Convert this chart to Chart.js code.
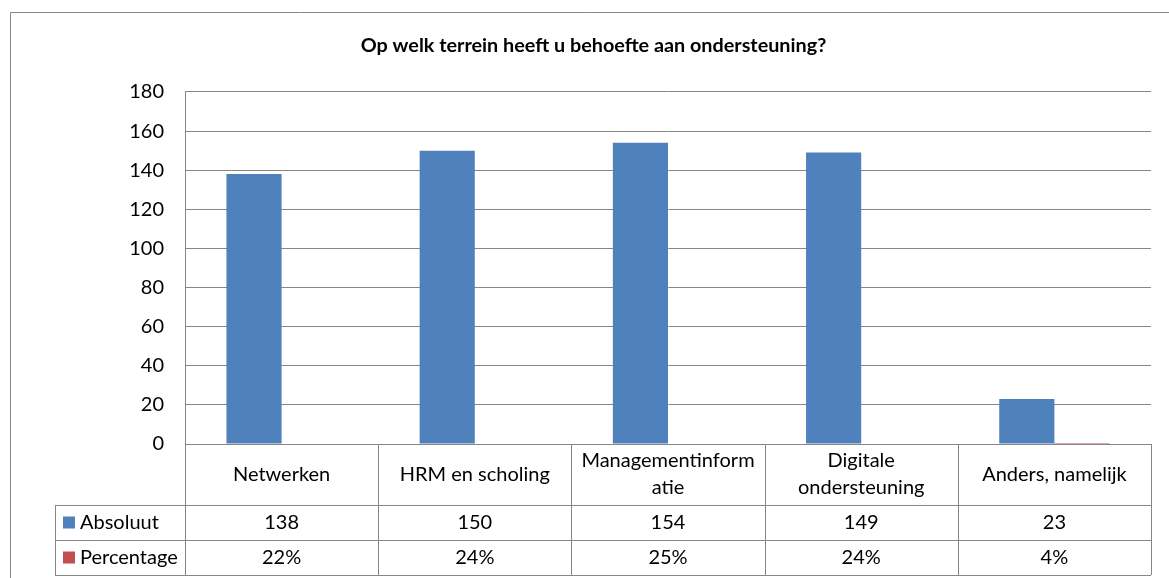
<!DOCTYPE html>
<html>
<head>
<meta charset="utf-8">
<script src="https://cdn.jsdelivr.net/npm/chart.js@4"></script>
<style>
  body { margin: 0; background: #fff; }
  #wrap { width: 1169px; height: 578px; }
</style>
</head>
<body>
<div id="wrap"><canvas id="myChart"></canvas></div>
<script>
// data
const categories = ['Netwerken', 'HRM en scholing', ['Managementinform', 'atie'], ['Digitale', 'ondersteuning'], 'Anders, namelijk'];
const absoluut = [138, 150, 154, 149, 23];
const percentage = [0.22, 0.24, 0.25, 0.24, 0.04];
const seriesNames = ['Absoluut', 'Percentage'];
const seriesColors = ['#4F81BD', '#C0504D'];
const yTicks = { min: 0, max: 180, step: 20 };

const font = 'Lato';
const gray = '#868686';

// draws the data table under the plot, like Excel does
const tablePlugin = {
    id: 'dataTable',
    afterDraw(chart) {
        const ctx = chart.ctx;
        const a = chart.chartArea;
        const xs = chart.scales.x;
        const n = categories.length;
        const cw = (a.right - a.left) / n;
        const y0 = a.bottom, y1 = y0 + 61, y2 = y1 + 35, y3 = y2 + 35;
        const legLeft = 55;

        ctx.save();
        ctx.strokeStyle = gray;
        ctx.lineWidth = 1;
        ctx.beginPath();
        ctx.moveTo(a.left, Math.round(y0) + 0.5); ctx.lineTo(a.right, Math.round(y0) + 0.5);
        [y1, y2, y3].forEach(y => {
            ctx.moveTo(legLeft, Math.round(y) + 0.5); ctx.lineTo(a.right, Math.round(y) + 0.5);
        });
        for (let i = 0; i <= n; i++) {
            const x = Math.round(a.left + i * cw) + 0.5;
            ctx.moveTo(x, y0); ctx.lineTo(x, y3);
        }
        ctx.moveTo(legLeft + 0.5, y1); ctx.lineTo(legLeft + 0.5, y3);
        // outer chart border
        ctx.rect(10.5, 12.5, 2000, 2000);
        ctx.stroke();

        ctx.fillStyle = '#000';
        ctx.font = `20px ${font}`;
        ctx.textAlign = 'center';
        ctx.textBaseline = 'middle';
        for (let i = 0; i < n; i++) {
            const cx = xs.getPixelForValue(i);
            const lines = Array.isArray(categories[i]) ? categories[i] : [categories[i]];
            const mid = (y0 + y1) / 2;
            lines.forEach((l, j) => {
                ctx.fillText(l, cx, mid + (j - (lines.length - 1) / 2) * 27);
            });
            ctx.fillText(String(absoluut[i]), cx, (y1 + y2) / 2);
            ctx.fillText(Math.round(percentage[i] * 100) + '%', cx, (y2 + y3) / 2);
        }

        // legend keys in the first column
        ctx.textAlign = 'left';
        [[y1, y2], [y2, y3]].forEach(([t, b], k) => {
            const m = (t + b) / 2;
            ctx.fillStyle = seriesColors[k];
            ctx.fillRect(63, m - 6, 12, 12);
            ctx.fillStyle = '#000';
            ctx.fillText(seriesNames[k], 80, m);
        });
        ctx.restore();
    }
};

const ctx = document.getElementById('myChart');
const myChart = new Chart(ctx, {
    type: 'bar',
    data: {
        labels: categories,
        datasets: [{
            label: seriesNames[0],
            data: absoluut,
            backgroundColor: seriesColors[0]
        }, {
            label: seriesNames[1],
            data: percentage,
            backgroundColor: seriesColors[1]
        }]
    },
    options: {
        responsive: true,
        maintainAspectRatio: false,
        animation: false,
        layout: { padding: { left: 36, right: 18, top: 0, bottom: 134 } },
        datasets: { bar: { categoryPercentage: 0.571, barPercentage: 1.0 } },
        plugins: {
            legend: { display: false },
            tooltip: { enabled: false },
            title: {
                display: true,
                text: 'Op welk terrein heeft u behoefte aan ondersteuning?',
                color: '#000',
                font: { family: font, size: 19.8, weight: 'bold', lineHeight: 1.2 },
                padding: { top: 34.1, bottom: 34.1 }
            }
        },
        scales: {
            x: { display: false },
            y: {
                min: yTicks.min,
                max: yTicks.max,
                afterFit(scale) { scale.width = 149; },
                ticks: {
                    stepSize: yTicks.step,
                    padding: 21,
                    color: '#000',
                    font: { family: font, size: 20 }
                },
                grid: { color: gray, drawTicks: false },
                border: { display: true, color: gray }
            }
        }
    },
    plugins: [tablePlugin]
});
</script>
</body>
</html>
